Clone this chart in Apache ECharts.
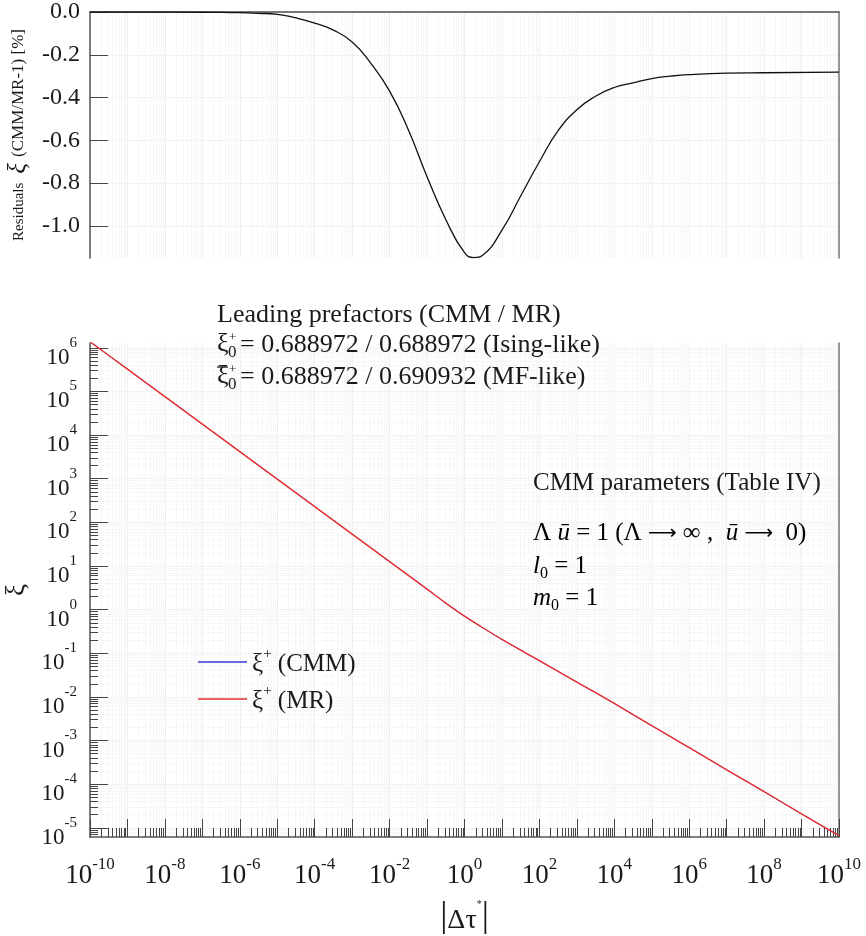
<!DOCTYPE html>
<html><head><meta charset="utf-8">
<script src="https://cdn.jsdelivr.net/npm/echarts@6/dist/echarts.min.js"></script>
<style>html,body{margin:0;padding:0;background:#fff}#c{width:866px;height:936px}</style>
</head><body><div id="c"></div>
<script>
// ---- data ----
// top panel: residuals xi(CMM/MR-1) [%] vs |Δτ*|
const tauResid = [1e-10, 1e-8, 1e-6, 3.16e-6, 1e-5, 3.16e-5, 1e-4, 3.16e-4, 1e-3, 3.16e-3, 0.01, 0.0316, 0.1, 0.316, 1, 1.78, 3.16, 10, 31.6, 100, 316, 1e3, 3160, 1e4, 3.16e4, 1e5, 3.16e5, 1e6, 1e7, 1e8, 1e10];
const residual = [0, 0, -0.003, -0.006, -0.011, -0.028, -0.052, -0.085, -0.14, -0.24, -0.37, -0.55, -0.77, -0.97, -1.125, -1.148, -1.135, -1.02, -0.86, -0.70, -0.555, -0.457, -0.394, -0.353, -0.331, -0.311, -0.300, -0.293, -0.286, -0.284, -0.281];
// bottom panel: xi+ vs |Δτ*|
const tauXi = [1e-10, 1e-9, 1e-8, 1e-7, 1e-6, 1e-5, 1e-4, 1e-3, 1e-2, 1e-1, 0.316, 1, 3.16, 10, 100, 1e3, 1e4, 1e5, 1e6, 1e7, 1e8, 1e9, 1e10];
const xiMR  = [1.38e6, 3.24e5, 7.59e4, 1.78e4, 4.17e3, 977, 229, 53.7, 12.6, 2.95, 1.41, 0.71, 0.38, 0.209, 0.0676, 0.0219, 7.08e-3, 2.19e-3, 6.92e-4, 2.14e-4, 6.76e-5, 2.09e-5, 6.6e-6];
const xiCMM = [1.38e6, 3.24e5, 7.59e4, 1.78e4, 4.17e3, 977, 229, 53.7, 12.6, 2.95, 1.40, 0.702, 0.376, 0.207, 0.0671, 0.0218, 7.06e-3, 2.18e-3, 6.90e-4, 2.13e-4, 6.74e-5, 2.08e-5, 6.58e-6];
// tick labels
const xLabelExp = [-10, -8, -6, -4, -2, 0, 2, 4, 6, 8, 10];
const xDecadeExp = [-10, -9, -8, -7, -6, -5, -4, -3, -2, -1, 0, 1, 2, 3, 4, 5, 6, 7, 8, 9, 10];
const yDecadeExp = [-5, -4, -3, -2, -1, 0, 1, 2, 3, 4, 5, 6];
const residTicks = [0, -0.2, -0.4, -0.6, -0.8, -1.0];
const seriesNames = ['CMM', 'MR'];

// ---- axis helpers ----
const X_MIN = -10, X_MAX = 10, Y_MIN = -5.21, Y_MAX = 6.11;
const minorX = [];
for (let n = -10; n < 10; n++) for (let k = 2; k <= 9; k++) minorX.push(n + Math.log10(k));
const minorY = [];
for (let n = -6; n <= 6; n++) for (let k = 2; k <= 9; k++) { const v = n + Math.log10(k); if (v > Y_MIN && v < Y_MAX) minorY.push(v); }

const FONT = '"Liberation Serif", "DejaVu Serif", serif';
const TXT = '#1a1a1a';
const AX = '#555';
const GRID_MAJ = '#f0f0f0';
const GRID_MIN = '#f7f7f7';

const chart = echarts.init(document.getElementById('c'), null, {renderer: 'canvas'});

function blankAxis(extra) {
  return Object.assign({type: 'value', axisLine: {show: false, onZero: false}, axisTick: {show: false}, axisLabel: {show: false}, splitLine: {show: false}}, extra);
}

const option = {
  animation: false,
  backgroundColor: '#fff',
  textStyle: {fontFamily: FONT, color: TXT},
  grid: [
    {left: 90, right: 27, top: 12, height: 246, containLabel: false, outerBoundsMode: 'none'},
    {left: 90, right: 27, top: 343, height: 494, containLabel: false, outerBoundsMode: 'none'}
  ],
  xAxis: [
    // top panel: top border + major vertical grid
    blankAxis({gridIndex: 0, min: X_MIN, max: X_MAX, position: 'top',
      axisLine: {show: true, onZero: false, lineStyle: {color: '#777', width: 2}},
      axisTick: {show: false, customValues: xDecadeExp},
      splitLine: {show: true, lineStyle: {color: GRID_MAJ, width: 1}}}),
    // top panel: minor vertical grid
    blankAxis({gridIndex: 0, min: X_MIN, max: X_MAX, position: 'top',
      axisTick: {show: false, customValues: minorX},
      splitLine: {show: true, lineStyle: {color: GRID_MIN, width: 1}}}),
    // bottom panel: major ticks + labels
    blankAxis({gridIndex: 1, min: X_MIN, max: X_MAX, position: 'bottom',
      axisLine: {show: true, onZero: false, lineStyle: {color: AX, width: 1.5}},
      axisTick: {show: true, inside: true, length: 18, customValues: xDecadeExp, lineStyle: {color: '#444', width: 1}},
      axisLabel: {show: true, customValues: xLabelExp, margin: 19, showMinLabel: true, showMaxLabel: true,
        formatter: v => '{b|10}{s|' + v + '}',
        rich: {
          b: {fontFamily: FONT, fontSize: 27, lineHeight: 33, verticalAlign: 'bottom', color: TXT},
          s: {fontFamily: FONT, fontSize: 17, lineHeight: 17, verticalAlign: 'top', color: TXT}
        }},
      splitLine: {show: true, lineStyle: {color: GRID_MAJ, width: 1}},
      name: '{v||}{t|Δτ}{s|*}{v||}', nameLocation: 'middle', nameGap: 62,
      nameTextStyle: {rich: {
        v: {fontFamily: FONT, fontSize: 36, lineHeight: 36, verticalAlign: 'bottom', color: TXT},
        t: {fontFamily: FONT, fontSize: 28, lineHeight: 32, verticalAlign: 'bottom', color: TXT},
        s: {fontFamily: FONT, fontSize: 10, lineHeight: 20, verticalAlign: 'top', color: TXT}
      }}}),
    // bottom panel: minor ticks
    blankAxis({gridIndex: 1, min: X_MIN, max: X_MAX, position: 'bottom',
      axisTick: {show: true, inside: true, length: 9, customValues: minorX, lineStyle: {color: '#444', width: 1}},
      splitLine: {show: true, lineStyle: {color: GRID_MIN, width: 1}}})
  ],
  yAxis: [
    // top panel left
    blankAxis({gridIndex: 0, min: -1.15, max: 0, position: 'left',
      axisLine: {show: true, onZero: false, lineStyle: {color: AX, width: 1.5}},
      axisTick: {show: true, inside: true, length: 18, customValues: residTicks, lineStyle: {color: '#444', width: 1}},
      axisLabel: {show: true, customValues: residTicks, margin: 10, fontFamily: FONT, fontSize: 24, color: TXT,
        showMinLabel: true, showMaxLabel: true, formatter: v => v.toFixed(1)},
      splitLine: {show: true, lineStyle: {color: GRID_MAJ, width: 1}},
      name: '{a|Residuals}   {g|ξ}  {c|(CMM/MR-1) [%]}', nameLocation: 'middle', nameRotate: 90, nameGap: 58,
      nameTextStyle: {rich: {
        a: {fontFamily: FONT, fontSize: 15, color: TXT},
        g: {fontFamily: FONT, fontSize: 25, fontStyle: 'italic', color: TXT},
        c: {fontFamily: FONT, fontSize: 17, color: TXT}
      }}}),
    // top panel right border
    blankAxis({gridIndex: 0, min: -1.15, max: 0, position: 'right',
      axisLine: {show: true, onZero: false, lineStyle: {color: '#777', width: 1.5}}}),
    // bottom panel left: major
    blankAxis({gridIndex: 1, min: Y_MIN, max: Y_MAX, position: 'left',
      axisLine: {show: true, onZero: false, lineStyle: {color: AX, width: 1.5}},
      axisTick: {show: true, inside: true, length: 18, customValues: yDecadeExp, lineStyle: {color: '#444', width: 1}},
      axisLabel: {show: true, customValues: yDecadeExp, margin: 13, padding: [9, 0, 0, 0],
        showMinLabel: true, showMaxLabel: true, hideOverlap: false,
        formatter: v => '{b|10}{s|' + v + '}',
        rich: {
          b: {fontFamily: FONT, fontSize: 23, lineHeight: 34, verticalAlign: 'bottom', color: TXT},
          s: {fontFamily: FONT, fontSize: 15, lineHeight: 15, verticalAlign: 'top', color: TXT}
        }},
      splitLine: {show: true, lineStyle: {color: GRID_MAJ, width: 1}},
      name: 'ξ', nameLocation: 'middle', nameRotate: 90, nameGap: 49,
      nameTextStyle: {fontFamily: FONT, fontSize: 27, color: TXT}}),
    // bottom panel left: minor
    blankAxis({gridIndex: 1, min: Y_MIN, max: Y_MAX, position: 'left',
      axisTick: {show: true, inside: true, length: 8, customValues: minorY, lineStyle: {color: '#444', width: 1}},
      splitLine: {show: true, lineStyle: {color: GRID_MIN, width: 1}}}),
    // bottom panel right border
    blankAxis({gridIndex: 1, min: Y_MIN, max: Y_MAX, position: 'right',
      axisLine: {show: true, onZero: false, lineStyle: {color: '#777', width: 1.5}}})
  ],
  legend: {
    orient: 'vertical', left: 193, top: 642, itemWidth: 49, itemHeight: 1.5, itemGap: 7,
    icon: 'rect', data: seriesNames, z: 50,
    textStyle: {
      rich: {
        g: {fontFamily: FONT, fontSize: 25, lineHeight: 30, verticalAlign: 'bottom', color: TXT},
        p: {fontFamily: FONT, fontSize: 15, lineHeight: 15, verticalAlign: 'top', color: TXT},
        t: {fontFamily: FONT, fontSize: 25, lineHeight: 30, verticalAlign: 'bottom', color: TXT}
      }},
    formatter: n => '{g|ξ}{p|+}{t| (' + n + ')}'
  },
  series: [
    {type: 'line', name: 'residual', xAxisIndex: 0, yAxisIndex: 0, showSymbol: false, symbol: 'none', smooth: 0.5,
      lineStyle: {color: '#111', width: 1.3}, itemStyle: {color: '#111'},
      data: tauResid.map((t, i) => [Math.log10(t), residual[i]])},
    {type: 'line', name: 'CMM', xAxisIndex: 2, yAxisIndex: 2, showSymbol: false, symbol: 'none', smooth: 0.3, z: 2,
      lineStyle: {color: '#3b3bd6', width: 0.8}, itemStyle: {color: '#3b3bd6'},
      data: tauXi.map((t, i) => [Math.log10(t), Math.log10(xiCMM[i])])},
    {type: 'line', name: 'MR', xAxisIndex: 2, yAxisIndex: 2, showSymbol: false, symbol: 'none', smooth: 0.3, z: 3,
      lineStyle: {color: '#e53030', width: 1.4}, itemStyle: {color: '#e53030'},
      data: tauXi.map((t, i) => [Math.log10(t), Math.log10(xiMR[i])])}
  ],
  graphic: [
    {type: 'text', z: 100, left: 217, top: 302, style: {text: 'Leading prefactors (CMM / MR)', font: '26px ' + FONT, fill: TXT}},
    // line 2
    {type: 'text', z: 100, left: 217, top: 331, style: {text: 'ξ', font: '26px ' + FONT, fill: TXT}},
    {type: 'text', z: 100, left: 229, top: 331, style: {text: '+', font: '13px ' + FONT, fill: TXT}},
    {type: 'text', z: 100, left: 228, top: 344, style: {text: '0', font: '17px ' + FONT, fill: TXT}},
    {type: 'text', z: 100, left: 240, top: 332, style: {text: '= 0.688972 / 0.688972 (Ising-like)', font: '26px ' + FONT, fill: TXT}},
    // line 3
    {type: 'line', z: 100, shape: {x1: 217, y1: 367, x2: 228, y2: 367}, style: {stroke: TXT, lineWidth: 1.3}},
    {type: 'text', z: 100, left: 217, top: 363, style: {text: 'ξ', font: '26px ' + FONT, fill: TXT}},
    {type: 'text', z: 100, left: 229, top: 363, style: {text: '+', font: '13px ' + FONT, fill: TXT}},
    {type: 'text', z: 100, left: 228, top: 376, style: {text: '0', font: '17px ' + FONT, fill: TXT}},
    {type: 'text', z: 100, left: 240, top: 364, style: {text: '= 0.688972 / 0.690932 (MF-like)', font: '26px ' + FONT, fill: TXT}},
    // CMM parameters
    {type: 'text', z: 100, left: 533, top: 471, style: {text: 'CMM parameters (Table IV)', font: '25px ' + FONT, fill: TXT}},
    {type: 'text', z: 100, left: 533, top: 521, style: {
      text: '{n|Λ }{i|ū}{n| = 1 (Λ }{a|⟶}{n| ∞ ,  }{i|ū}{n| }{a|⟶}{n|  0)}',
      rich: {n: {fontFamily: FONT, fontSize: 25, color: TXT},
             i: {fontFamily: FONT, fontSize: 25, fontStyle: 'italic', color: TXT},
             a: {fontFamily: '"DejaVu Sans", "DejaVu Serif", sans-serif', fontSize: 20, color: TXT}}}},
    {type: 'text', z: 100, left: 533, top: 554, style: {
      text: '{i|l}{s|0}{n| = 1}',
      rich: {n: {fontFamily: FONT, fontSize: 25, lineHeight: 28, verticalAlign: 'top', color: TXT},
             i: {fontFamily: FONT, fontSize: 25, lineHeight: 28, verticalAlign: 'top', fontStyle: 'italic', color: TXT},
             s: {fontFamily: FONT, fontSize: 16, lineHeight: 16, verticalAlign: 'bottom', color: TXT}}}},
    {type: 'text', z: 100, left: 533, top: 586, style: {
      text: '{i|m}{s|0}{n| = 1}',
      rich: {n: {fontFamily: FONT, fontSize: 25, lineHeight: 28, verticalAlign: 'top', color: TXT},
             i: {fontFamily: FONT, fontSize: 25, lineHeight: 28, verticalAlign: 'top', fontStyle: 'italic', color: TXT},
             s: {fontFamily: FONT, fontSize: 16, lineHeight: 16, verticalAlign: 'bottom', color: TXT}}}}
  ]
};
chart.setOption(option);
</script>
</body></html>
